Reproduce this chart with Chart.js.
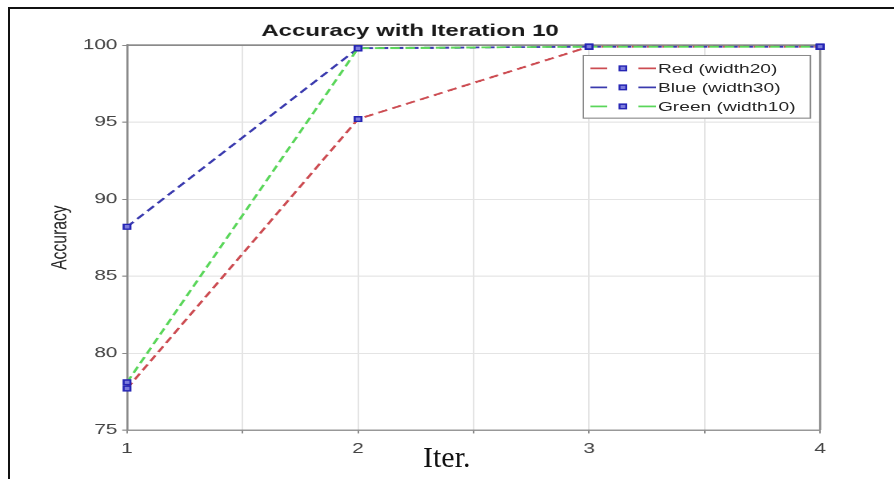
<!DOCTYPE html>
<html>
<head>
<meta charset="utf-8">
<script src="https://cdn.jsdelivr.net/npm/chart.js@4.4.1/dist/chart.umd.min.js"></script>
<style>
  body {
    margin: 0;
    background: #fff;
    width: 894px;
    height: 479px;
    overflow: hidden;
    position: relative;
  }
  /* figure is laid out at 559x428 then stretched to the page */
  #fig {
    position: absolute;
    left: 0;
    top: 0;
    width: 559px;
    height: 428px;
    transform: scale(1.6, 1.12);
    transform-origin: 0 0;
  }
  #legend {
    position: absolute;
    left: 364.4px;
    top: 49.1px;
    width: 141px;
    height: 53.4px;
    border: 1px solid #8a8a8a;
    background: #fff;
    padding-top: 2px;
    box-sizing: content-box;
    font: 12px "Liberation Sans", Arial, sans-serif;
    color: #262626;
  }
  .leg-row {
    height: 17px;
    display: flex;
    align-items: center;
  }
  .leg-row canvas {
    width: 41px;
    height: 10px;
    margin-left: 3.4px;
    margin-right: 1.4px;
  }
  .frame-left {
    position: absolute;
    left: 8px;
    top: 7px;
    width: 2px;
    height: 472px;
    background: #111;
  }
  .frame-top {
    position: absolute;
    left: 8px;
    top: 7px;
    width: 886px;
    height: 2px;
    background: #111;
  }
  #xlabel {
    position: absolute;
    left: 423px;
    top: 442px;
    font: 30px "Liberation Serif", "Times New Roman", serif;
    line-height: 30px;
    color: #111;
  }
</style>
</head>
<body>
<div id="fig">
  <canvas id="accChart" width="559" height="428"></canvas>
  <div id="legend"></div>
</div>
<div class="frame-left"></div>
<div class="frame-top"></div>
<div id="xlabel">Iter.</div>

<script>
// accuracy per iteration for each width setting
const iterations = [1, 2, 3, 4];
const red_acc = [77.7, 95.2, 99.9, 99.9];
const blue_acc = [88.2, 99.8, 99.9, 99.9];
const green_acc = [78.1, 99.8, 99.9, 99.9];
const series_names = ["Red (width20)", "Blue (width30)", "Green (width10)"];
const y_ticks = [75, 80, 85, 90, 95, 100];

const axis_gray = "#8a8a8a";
const marker_edge = "#2424b4";
const marker_fill = "#7c7cdc";

function to_points(values) {
  return iterations.map((it, i) => ({ x: it, y: values[i] }));
}

function make_series(name, values, color, order) {
  return {
    label: name,
    data: to_points(values),
    borderColor: color,
    borderWidth: 1.7,
    borderDash: [6, 3.5],
    pointStyle: "rect",
    pointRadius: 3,
    pointBorderWidth: 1.3,
    pointBorderColor: marker_edge,
    pointBackgroundColor: marker_fill,
    fill: false,
    tension: 0,
    clip: 8,
    order: order,
  };
}

// top + right edges of the axes box
const box_border = {
  id: "box_border",
  beforeDatasetsDraw(chart) {
    const { ctx, chartArea } = chart;
    ctx.save();
    ctx.strokeStyle = axis_gray;
    ctx.lineWidth = 1.3;
    ctx.beginPath();
    ctx.moveTo(chartArea.left, chartArea.top);
    ctx.lineTo(chartArea.right, chartArea.top);
    ctx.lineTo(chartArea.right, chartArea.bottom);
    ctx.stroke();
    ctx.restore();
  },
};

Chart.defaults.font.family = '"Liberation Sans", Arial, sans-serif';

const ctx = document.getElementById("accChart").getContext("2d");
const accChart = new Chart(ctx, {
  type: "line",
  data: {
    datasets: [
      make_series(series_names[0], red_acc, "#cc4c52", 2),
      make_series(series_names[1], blue_acc, "#3a3aae", 1),
      make_series(series_names[2], green_acc, "#5ad65a", 0),
    ],
  },
  options: {
    responsive: false,
    devicePixelRatio: 2,
    animation: false,
    layout: {
      padding: { top: 10, left: 0, right: 46.4, bottom: 0 },
    },
    plugins: {
      legend: { display: false },
      tooltip: { enabled: false },
      title: {
        display: true,
        text: "Accuracy with Iteration 10",
        color: "#1a1a1a",
        font: { size: 15, weight: "bold" },
        padding: { top: 9, bottom: 3.3 },
      },
    },
    scales: {
      x: {
        type: "linear",
        min: 1,
        max: 4,
        afterFit: (s) => {
          s.height = 44;
        },
        ticks: {
          stepSize: 0.5,
          autoSkip: false,
          maxRotation: 0,
          padding: 6,
          color: "#444",
          font: { size: 13 },
          callback: (v) => (Number.isInteger(v) ? v : ""),
        },
        grid: {
          color: "#e4e4e4",
          lineWidth: 1,
          tickLength: 3,
          tickColor: axis_gray,
        },
        border: { color: axis_gray, width: 1.3 },
      },
      y: {
        min: 75,
        max: 100,
        afterFit: (s) => {
          s.width = 79.4;
        },
        afterBuildTicks: (s) => {
          s.ticks = y_ticks.map((v) => ({ value: v }));
        },
        ticks: {
          padding: 3,
          color: "#444",
          font: { size: 13 },
        },
        grid: {
          color: "#e4e4e4",
          lineWidth: 1,
          tickLength: 3,
          tickColor: axis_gray,
        },
        border: { color: axis_gray, width: 1.3 },
        title: {
          display: true,
          text: "Accuracy",
          color: "#262626",
          font: { size: 14 },
          padding: { top: 29, bottom: 0 },
        },
      },
    },
  },
  plugins: [box_border],
});

// legend rows: dash, marker, dash + series name
const legend_div = document.getElementById("legend");
accChart.data.datasets.forEach((ds) => {
  const row = document.createElement("div");
  row.className = "leg-row";
  const cv = document.createElement("canvas");
  cv.width = 82;
  cv.height = 20;
  const c = cv.getContext("2d");
  c.scale(2, 2);
  c.strokeStyle = ds.borderColor;
  c.lineWidth = 1.5;
  c.beginPath();
  c.moveTo(0, 5);
  c.lineTo(10.5, 5);
  c.moveTo(30, 5);
  c.lineTo(41, 5);
  c.stroke();
  c.fillStyle = ds.pointBackgroundColor;
  c.fillRect(18.2, 2.9, 4.2, 4.2);
  c.strokeStyle = ds.pointBorderColor;
  c.lineWidth = 1.2;
  c.strokeRect(18.2, 2.9, 4.2, 4.2);
  const txt = document.createElement("span");
  txt.textContent = ds.label;
  row.appendChild(cv);
  row.appendChild(txt);
  legend_div.appendChild(row);
});
</script>
</body>
</html>
